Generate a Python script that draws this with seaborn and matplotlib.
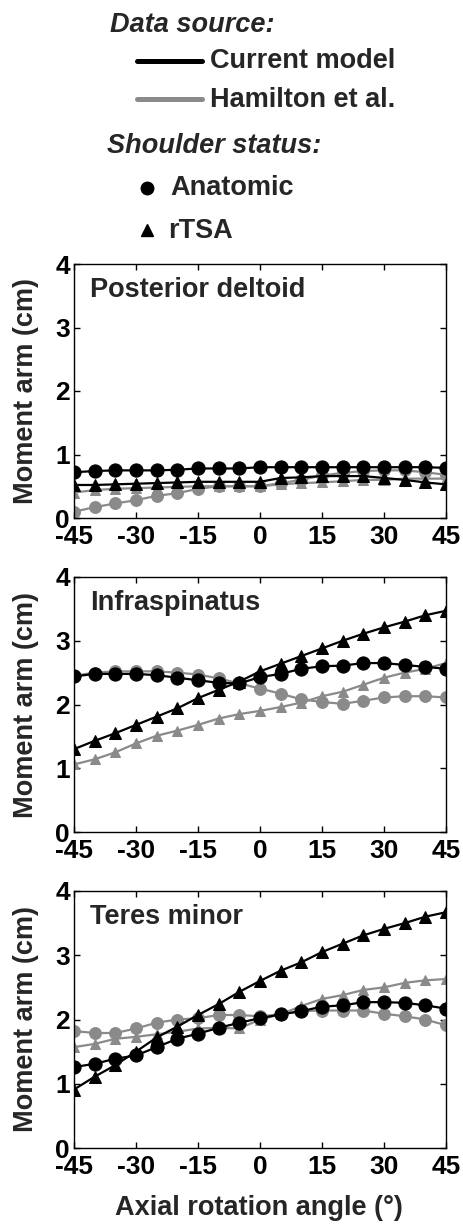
import matplotlib
matplotlib.use("Agg")
import matplotlib.pyplot as plt
from matplotlib.lines import Line2D
import seaborn as sns
import pandas as pd

sns.set_style("ticks")
plt.rcParams['font.family'] = ['Liberation Sans', 'DejaVu Sans']
plt.rcParams['font.weight'] = 'bold'
plt.rcParams['axes.unicode_minus'] = False

angles = list(range(-45, 50, 5))
muscles = ["Posterior deltoid", "Infraspinatus", "Teres minor"]

# current model
cur_anat = {
    "Posterior deltoid": [0.72, 0.74, 0.75, 0.75, 0.75, 0.76, 0.78, 0.78, 0.78, 0.80,
                          0.80, 0.80, 0.80, 0.80, 0.80, 0.80, 0.80, 0.80, 0.79],
    "Infraspinatus": [2.44, 2.48, 2.48, 2.48, 2.46, 2.42, 2.38, 2.34, 2.33, 2.43,
                      2.48, 2.56, 2.60, 2.61, 2.65, 2.65, 2.62, 2.59, 2.56],
    "Teres minor": [1.26, 1.31, 1.39, 1.44, 1.57, 1.70, 1.78, 1.87, 1.95, 2.02,
                    2.08, 2.13, 2.20, 2.22, 2.27, 2.27, 2.26, 2.22, 2.17],
}
cur_rtsa = {
    "Posterior deltoid": [0.52, 0.52, 0.53, 0.54, 0.55, 0.56, 0.57, 0.57, 0.57, 0.57,
                          0.63, 0.64, 0.66, 0.66, 0.66, 0.63, 0.60, 0.56, 0.53],
    "Infraspinatus": [1.30, 1.43, 1.55, 1.68, 1.81, 1.94, 2.10, 2.23, 2.36, 2.52,
                      2.64, 2.76, 2.88, 3.00, 3.11, 3.21, 3.30, 3.40, 3.47],
    "Teres minor": [0.91, 1.11, 1.29, 1.50, 1.72, 1.89, 2.07, 2.24, 2.43, 2.60,
                    2.76, 2.89, 3.05, 3.18, 3.31, 3.41, 3.50, 3.60, 3.67],
}
# Hamilton et al.
ham_anat = {
    "Posterior deltoid": [0.10, 0.17, 0.23, 0.28, 0.35, 0.39, 0.46, 0.50, 0.50, 0.50,
                          0.55, 0.60, 0.67, 0.71, 0.74, 0.75, 0.75, 0.72, 0.68],
    "Infraspinatus": [2.45, 2.50, 2.52, 2.52, 2.52, 2.50, 2.47, 2.41, 2.33, 2.25,
                      2.17, 2.08, 2.04, 2.01, 2.06, 2.11, 2.13, 2.13, 2.11],
    "Teres minor": [1.82, 1.79, 1.79, 1.86, 1.95, 2.00, 2.02, 2.07, 2.07, 2.05,
                    2.08, 2.13, 2.14, 2.14, 2.14, 2.09, 2.05, 2.00, 1.91],
}
ham_rtsa = {
    "Posterior deltoid": [0.40, 0.44, 0.46, 0.47, 0.48, 0.49, 0.50, 0.50, 0.50, 0.50,
                          0.53, 0.55, 0.56, 0.58, 0.60, 0.60, 0.62, 0.62, 0.62],
    "Infraspinatus": [1.06, 1.14, 1.25, 1.39, 1.51, 1.59, 1.68, 1.78, 1.85, 1.90,
                      1.96, 2.03, 2.13, 2.20, 2.31, 2.42, 2.50, 2.56, 2.65],
    "Teres minor": [1.57, 1.62, 1.70, 1.73, 1.77, 1.81, 1.86, 1.87, 1.86, 2.00,
                    2.08, 2.21, 2.32, 2.38, 2.46, 2.50, 2.57, 2.61, 2.63],
}

gray = '#8a8a8a'
series = [
    (ham_anat, gray, 'o', 8.5),
    (ham_rtsa, gray, '^', 7.5),
    (cur_anat, 'black', 'o', 9.5),
    (cur_rtsa, 'black', '^', 8.5),
]

FS = 19.5

fig = plt.figure(figsize=(4.64, 12.24), dpi=100)
W, H = 464, 1224
boxes = [(264, 518), (577, 832), (891, 1148)]

for k, m in enumerate(muscles):
    top, bot = boxes[k]
    ax = fig.add_axes([74 / W, 1 - bot / H, 372 / W, (bot - top) / H])
    for d, col, mk, ms in series:
        df = pd.DataFrame({"angle": angles, "arm": d[m]})
        sns.lineplot(data=df, x="angle", y="arm", ax=ax, color=col, marker=mk,
                     markersize=ms, markeredgecolor=col, linewidth=1.6)
    ax.set_xlim(-45, 45)
    ax.set_ylim(0, 4)
    ax.set_xticks([-45, -30, -15, 0, 15, 30, 45])
    ax.set_yticks([0, 1, 2, 3, 4])
    ax.tick_params(direction='in', top=True, right=True, length=4, width=1,
                   labelsize=19, colors='black')
    ax.tick_params(axis='x', pad=5)
    ax.tick_params(axis='y', pad=3)
    for lab in ax.get_xticklabels() + ax.get_yticklabels():
        lab.set_fontweight('bold')
    for sp in ax.spines.values():
        sp.set_visible(True)
        sp.set_linewidth(1.0)
        sp.set_color('black')
    ax.set_ylabel("Moment arm (cm)", fontsize=FS, fontweight='bold')
    ax.yaxis.set_label_coords(-0.095, 0.5)
    ax.set_xlabel("")
    ax.text(0.043, 0.95, m, transform=ax.transAxes, fontsize=FS, fontweight='bold',
            va='top', ha='left')

fig.text(259 / W, 1 - 1215 / H, "Axial rotation angle (°)", fontsize=FS,
         fontweight='bold', ha='center', va='baseline')

# legend block at top
def fx(px):
    return px / W

def fy(py):
    return 1 - py / H

fig.text(fx(110), fy(32), "Data source:", fontsize=FS, fontweight='bold',
         style='italic', va='baseline')
fig.add_artist(Line2D([fx(137), fx(202)], [fy(61), fy(61)], color='black', lw=3.6))
fig.text(fx(210), fy(68), "Current model", fontsize=FS, fontweight='bold', va='baseline')
fig.add_artist(Line2D([fx(137), fx(202)], [fy(99), fy(99)], color=gray, lw=3.6))
fig.text(fx(210), fy(107), "Hamilton et al.", fontsize=FS, fontweight='bold', va='baseline')
fig.text(fx(107), fy(153), "Shoulder status:", fontsize=FS, fontweight='bold',
         style='italic', va='baseline')
fig.add_artist(Line2D([fx(147)], [fy(188)], color='black', marker='o', markersize=9, lw=0))
fig.text(fx(170), fy(195), "Anatomic", fontsize=FS, fontweight='bold', va='baseline')
fig.add_artist(Line2D([fx(147)], [fy(230)], color='black', marker='^', markersize=8, lw=0))
fig.text(fx(168), fy(238), "rTSA", fontsize=FS, fontweight='bold', va='baseline')

fig.savefig("out.png", dpi=100, facecolor='white')
